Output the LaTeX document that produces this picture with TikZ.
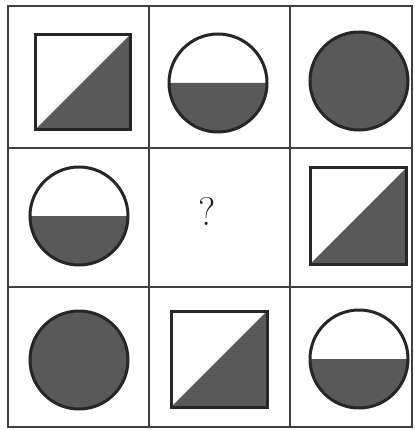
\documentclass[tikz,border=0pt]{standalone}
\usepackage{fontspec}
\usetikzlibrary{positioning}

\begin{document}
\begin{tikzpicture}[x=1pt,y=-1pt,
  gridline/.style={black!75, line width=2.6pt},
  shapeline/.style={black!85, line width=3pt},
  shapefill/.style={black!65}]
\useasboundingbox (0,0) rectangle (414,430);
% grid
\draw [gridline] (8,6) rectangle (412,427);
\draw [gridline] (149,6) -- (149,427);
\draw [gridline] (290,6) -- (290,427);
\draw [gridline] (8,148) -- (412,148);
\draw [gridline] (8,287) -- (412,287);
% row 1
\fill [shapefill] (35,130) -- (130,130) -- (130,35) -- cycle;
\draw [shapeline] (35,35) rectangle (130,130);
\fill [shapefill] (267,83) arc [start angle=0, end angle=180, radius=49] -- cycle;
\draw [shapeline] (218,83) circle (49);
\fill [shapefill] (359,81) circle (49);
\draw [shapeline] (359,81) circle (49);
% row 2
\fill [shapefill] (128,216) arc [start angle=0, end angle=180, radius=49] -- cycle;
\draw [shapeline] (79,216) circle (49);
\node (query) at (207,211) [font=\fontsize{40}{44}\selectfont, black!85] {?};
\fill [shapefill] (310,264) -- (406,264) -- (406,168) -- cycle;
\draw [shapeline] (310,168) rectangle (406,264);
% row 3
\fill [shapefill] (79,360) circle (49);
\draw [shapeline] (79,360) circle (49);
\fill [shapefill] (171,407) -- (267,407) -- (267,311) -- cycle;
\draw [shapeline] (171,311) rectangle (267,407);
\fill [shapefill] (408,359) arc [start angle=0, end angle=180, radius=49] -- cycle;
\draw [shapeline] (359,359) circle (49);
\end{tikzpicture}
\end{document}
